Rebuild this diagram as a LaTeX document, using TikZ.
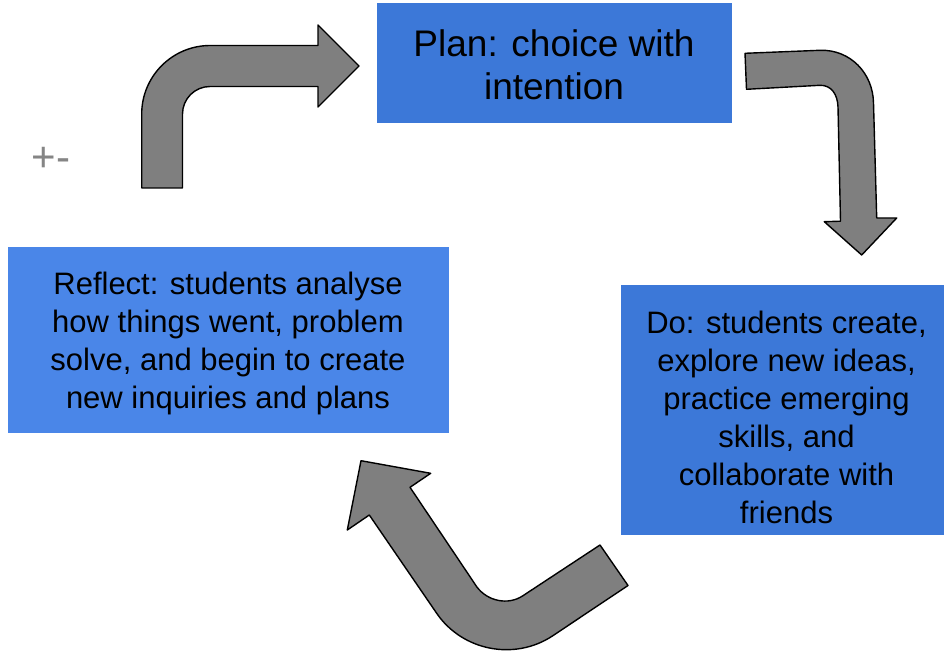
\documentclass[tikz,border=0pt]{standalone}
\usepackage{fontspec}
\setmainfont{Liberation Sans}
\definecolor{boxblue}{HTML}{3C78D8}
\definecolor{boxlight}{HTML}{4A86E8}
\definecolor{arrowgray}{HTML}{7F7F7F}
\definecolor{signgray}{HTML}{858585}
\begin{document}
\begin{tikzpicture}[x=1pt,y=-1pt,
  stagebox/.style={draw=none,inner sep=0pt,outer sep=0pt,rectangle},
  stagetext/.style={inner sep=0pt,align=center,text=black},
  blockarrow/.style={fill=arrowgray,draw=black,line width=1.4pt,line join=round}]
\useasboundingbox (0,0) rectangle (944,652);
\fill[white] (0,0) rectangle (944,652);

% boxes
\node[stagebox,fill=boxblue,minimum width=355pt,minimum height=120pt] (plan) at (554.2,63.3) {};
\node[stagebox,fill=boxlight,minimum width=440.7pt,minimum height=186pt] (reflect) at (228.65,339.7) {};
\node[stagebox,fill=boxblue,minimum width=323pt,minimum height=249.7pt] (do) at (782.5,410.15) {};

% texts
\node[stagetext,font=\fontsize{37}{43.5}\selectfont] (plantxt) at (554,65)
  {Plan: choice with\\intention};
\node[stagetext,font=\fontsize{31}{37.8}\selectfont] (reflecttxt) at (228,343.6)
  {Reflect: students analyse\\how things went, problem\\solve, and begin to create\\new inquiries and plans};
\node[stagetext,font=\fontsize{31}{37.9}\selectfont] (dotxt) at (786.5,417.3)
  {Do: students create,\\explore new ideas,\\practice emerging\\skills, and\\collaborate with\\friends};
\node[inner sep=0pt,text=signgray,font=\fontsize{42}{48}\selectfont] (pm) at (51.2,159.5) {+-};

% upper arrow (reflect -> plan)
\draw[blockarrow] (141.7,188) -- (141.7,114)
  arc[start angle=180,end angle=270,radius=68.5]
  -- (318,45.5) -- (318,25) -- (359,66) -- (318,107) -- (318,86.5) -- (210,86.5)
  arc[start angle=270,end angle=180,radius=27.5]
  -- (182.5,188) -- cycle;

% right arrow (plan -> do)
\draw[blockarrow] (745,53.3) -- (820,50.3)
  .. controls (850,49.3) and (873,73) .. (873.5,103)
  -- (876.7,218) -- (896.7,218) -- (861.7,255) -- (824.3,221.7) -- (840.5,221.2)
  -- (838,107) .. controls (837.6,94) and (831,85) .. (820,85.3)
  -- (746.5,89.3) -- cycle;

% bottom arrow (do -> reflect)
\draw[blockarrow] (361,460.7) -- (430.7,473.3) -- (410,487.3) -- (476.7,586.7)
  .. controls (487.5,601.4) and (508.2,605.5) .. (522.8,595.8)
  -- (600,545) -- (628,585.5) -- (552.4,636)
  .. controls (514.4,661) and (462.3,650.8) .. (436.7,613.3)
  -- (369.3,515) -- (347.3,530) -- cycle;
\end{tikzpicture}
\end{document}
